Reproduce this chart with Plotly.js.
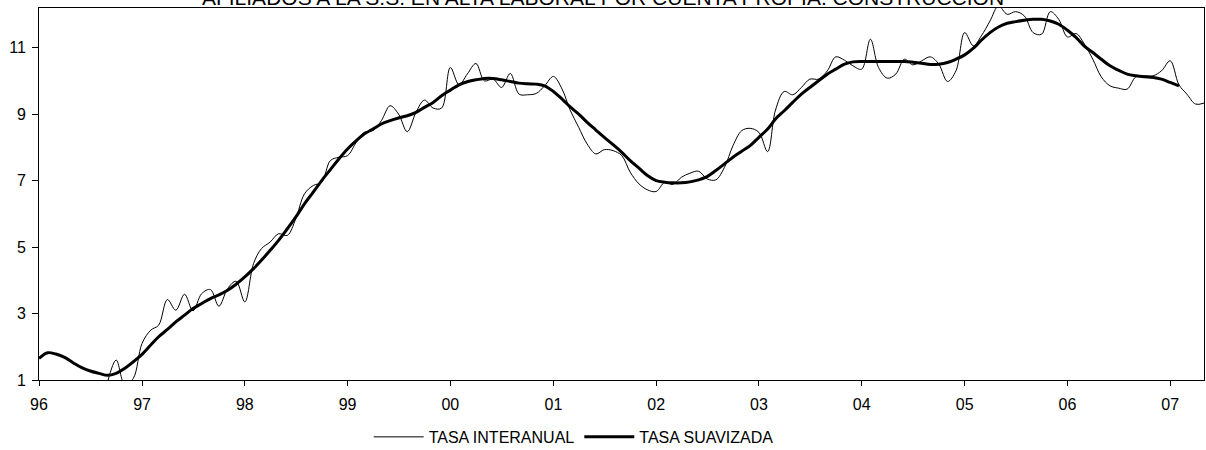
<!DOCTYPE html>
<html>
<head>
<meta charset="utf-8">
<script src="https://cdn.plot.ly/plotly-3.0.1.min.js"></script>
<style>
html,body{margin:0;padding:0;background:#fff;}
#chart{width:1206px;height:450px;}
</style>
</head>
<body>
<div id="chart"></div>
<script>
const TITLE = 'AFILIADOS A LA S.S. EN ALTA LABORAL POR CUENTA PROPIA. CONSTRUCCIÓN';
const SERIES_NAMES = ['TASA INTERANUAL', 'TASA SUAVIZADA'];
const FIRST_YEAR = 1996;
const N_MONTHS = 137; // Jan 1996 .. May 2007

// Monthly categories (first day of each month)
const months = [];
for (let k = 0; k < N_MONTHS; k++) {
  const y = FIRST_YEAR + Math.floor(k / 12);
  const m = (k % 12) + 1;
  months.push(y + '-' + String(m).padStart(2, '0') + '-01');
}

// TASA INTERANUAL (values below the axis minimum in early 1996 are not visible)
const tasaInteranual = [
  null, null, null, null, null, null, null, null, 0.95, 1.6, 0.85, 1.05,
  2.1, 2.5, 2.65, 3.42, 3.1, 3.58, 3.08, 3.6, 3.72, 3.22, 3.75, 3.97,
  3.35, 4.5, 4.95, 5.15, 5.4, 5.35, 5.85, 6.6, 6.85, 6.95, 7.6, 7.7,
  7.75, 8.15, 8.45, 8.5, 8.8, 9.25, 9.0, 8.47, 9.05, 9.42, 9.18, 9.18,
  10.4, 9.88, 10.2, 10.52, 10.0, 10.05, 9.8, 10.22, 9.6, 9.58, 9.62, 9.85,
  10.13, 9.75, 9.13, 8.6, 8.1, 7.8, 7.93, 7.9, 7.75, 7.25, 6.9, 6.72,
  6.67, 6.95, 6.88, 7.1, 7.22, 7.28, 7.05, 7.02, 7.4, 8.05, 8.5, 8.57,
  8.45, 7.87, 9.12, 9.68, 9.58, 9.8, 10.05, 10.05, 10.3, 10.72, 10.62, 10.45,
  10.35, 11.25, 10.4, 10.08, 10.2, 10.65, 10.48, 10.6, 10.72, 10.5, 9.98, 10.3,
  11.45, 11.05, 11.35, 11.8, 12.25, 12.0, 12.08, 11.95, 11.45, 11.4, 12.08, 11.85,
  11.32, 11.42, 11.12, 10.65, 10.12, 9.85, 9.78, 9.75, 10.12, 10.15, 10.15, 10.3,
  10.6, 9.88, 9.6, 9.3, 9.33
];

// TASA SUAVIZADA (Jan 1996 .. Feb 2007)
const tasaSuavizada = [
  1.65, 1.82, 1.78, 1.68, 1.52, 1.37, 1.27, 1.2, 1.14, 1.2, 1.35, 1.55,
  1.77, 2.05, 2.3, 2.52, 2.75, 2.95, 3.15, 3.3, 3.45, 3.56, 3.7, 3.88,
  4.1, 4.35, 4.6, 4.9, 5.2, 5.55, 5.9, 6.3, 6.65, 7.0, 7.33, 7.65,
  7.95, 8.2, 8.4, 8.55, 8.7, 8.8, 8.88, 8.95, 9.05, 9.2, 9.35, 9.55,
  9.72, 9.88, 9.97, 10.03, 10.07, 10.07, 10.03, 9.98, 9.93, 9.91, 9.9, 9.85,
  9.68, 9.45, 9.22, 9.0, 8.75, 8.52, 8.3, 8.08, 7.85, 7.6, 7.37, 7.15,
  7.0, 6.95, 6.93, 6.93, 6.96, 7.02, 7.12, 7.3, 7.5, 7.7, 7.88, 8.05,
  8.3, 8.55, 8.85, 9.1, 9.35, 9.6, 9.8, 10.0, 10.2, 10.35, 10.5, 10.57,
  10.58, 10.58, 10.58, 10.58, 10.58, 10.58, 10.56, 10.53, 10.49, 10.5, 10.55, 10.65,
  10.78, 10.98, 11.22, 11.45, 11.62, 11.73, 11.78, 11.82, 11.85, 11.85, 11.8, 11.7,
  11.52, 11.3, 11.05, 10.85, 10.65, 10.45, 10.32, 10.2, 10.15, 10.12, 10.1, 10.05,
  9.95, 9.85
];

const Y_TICKS = [1, 3, 5, 7, 9, 11];
const Y_RANGE = [1, 12.19];

const FONT = 'Liberation Sans, Arial, Helvetica, sans-serif';

const traces = [
  {
    x: months.slice(0, tasaInteranual.length),
    y: tasaInteranual,
    name: SERIES_NAMES[0],
    type: 'scatter',
    mode: 'lines',
    line: {color: '#000000', width: 1, shape: 'spline', smoothing: 1},
    connectgaps: false,
    hoverinfo: 'x+y'
  },
  {
    x: months.slice(0, tasaSuavizada.length),
    y: tasaSuavizada,
    name: SERIES_NAMES[1],
    type: 'scatter',
    mode: 'lines',
    line: {color: '#000000', width: 3, shape: 'spline', smoothing: 1},
    hoverinfo: 'x+y'
  }
];

const layout = {
  width: 1206,
  height: 450,
  paper_bgcolor: '#ffffff',
  plot_bgcolor: '#ffffff',
  font: {family: FONT, color: '#000000', size: 16},
  margin: {l: 39, r: 2, t: 8, b: 70, pad: 0, autoexpand: false},
  title: {
    text: TITLE,
    font: {family: FONT, size: 21, color: '#000000'},
    x: 0.5, xref: 'container', xanchor: 'center',
    y: 0.989, yref: 'container', yanchor: 'bottom'
  },
  xaxis: {
    type: 'date',
    range: [months[0], months[N_MONTHS - 1]],
    tick0: months[0],
    dtick: 'M12',
    tickformat: '%y',
    ticks: 'outside',
    ticklen: 5,
    ticklabelstandoff: 5,
    tickcolor: '#000000',
    tickfont: {family: FONT, size: 16, color: '#000000'},
    showline: true,
    linecolor: '#000000',
    linewidth: 1,
    mirror: true,
    showgrid: false,
    zeroline: false,
    automargin: false,
    fixedrange: true
  },
  yaxis: {
    range: Y_RANGE,
    tickvals: Y_TICKS,
    ticktext: Y_TICKS.map(String),
    ticks: 'outside',
    ticklen: 6,
    ticklabelstandoff: 3,
    tickcolor: '#000000',
    tickfont: {family: FONT, size: 16, color: '#000000'},
    showline: true,
    linecolor: '#000000',
    linewidth: 1,
    mirror: true,
    showgrid: false,
    zeroline: false,
    automargin: false,
    fixedrange: true
  },
  showlegend: true,
  legend: {
    orientation: 'h',
    x: 0.283, xanchor: 'left',
    yref: 'container',
    y: 0.029, yanchor: 'middle',
    itemwidth: 50,
    font: {family: FONT, size: 16, color: '#000000'},
    bgcolor: 'rgba(0,0,0,0)',
    traceorder: 'normal'
  }
};

Plotly.newPlot('chart', traces, layout, {displayModeBar: false, staticPlot: true});
</script>
</body>
</html>
